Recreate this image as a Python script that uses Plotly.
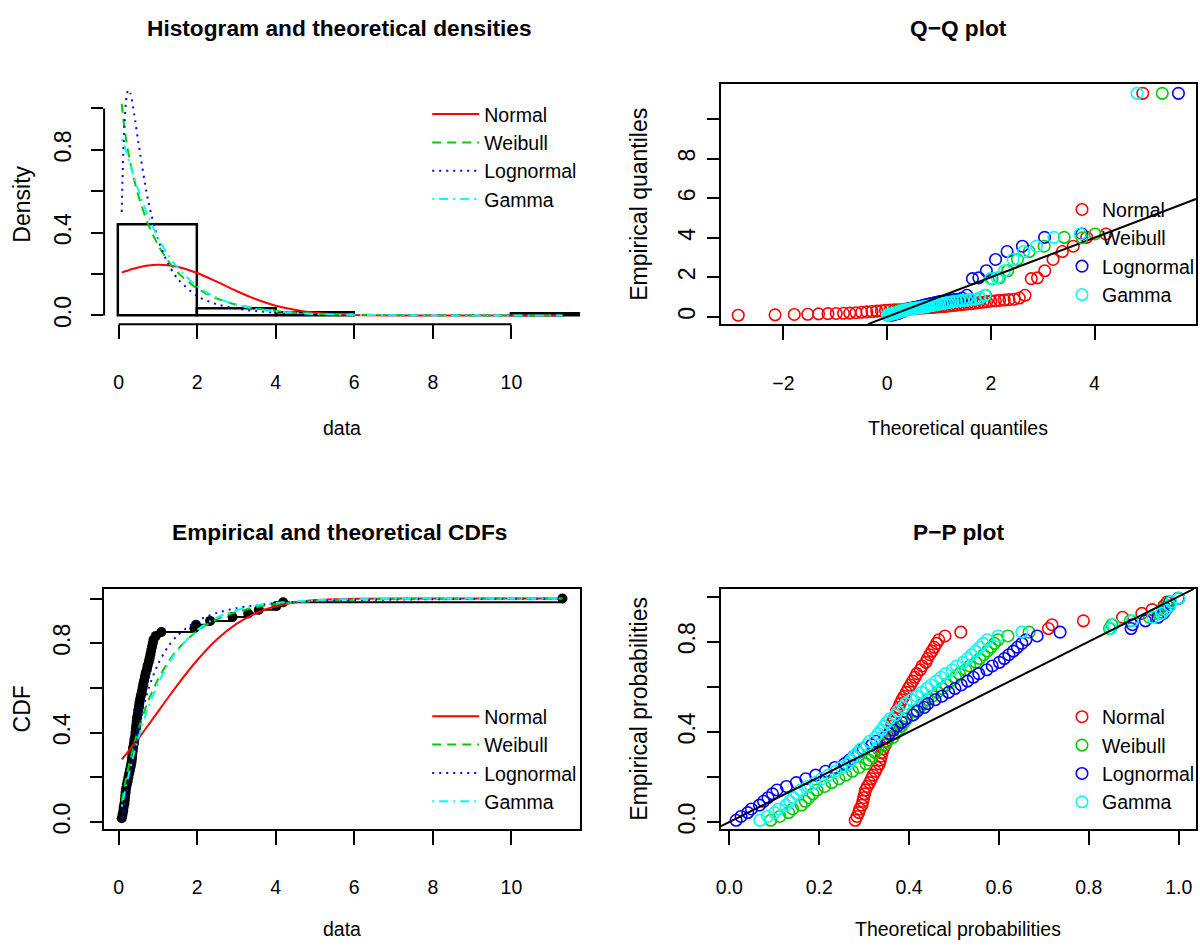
import plotly.graph_objects as go

# ---------------- data ----------------
data_sorted = [0.08, 0.10, 0.12, 0.13, 0.15, 0.16, 0.17, 0.18, 0.19, 0.21,
               0.23, 0.25, 0.27, 0.29, 0.31, 0.33, 0.34, 0.35, 0.36, 0.37,
               0.39, 0.40, 0.42, 0.43, 0.44, 0.45, 0.46, 0.47, 0.49, 0.50,
               0.52, 0.53, 0.55, 0.57, 0.59, 0.61, 0.63, 0.65, 0.67, 0.69,
               0.72, 0.74, 0.77, 0.79, 0.81, 0.83, 0.85, 0.87, 0.89, 0.95,
               1.09, 1.93, 1.97, 2.33, 2.90, 3.30, 3.57, 4.02, 4.19, 11.30]

ecdf_prob = [0.017, 0.033, 0.050, 0.067, 0.083, 0.100, 0.117, 0.133, 0.150, 0.167,
             0.183, 0.200, 0.217, 0.233, 0.250, 0.267, 0.283, 0.300, 0.317, 0.333,
             0.350, 0.367, 0.383, 0.400, 0.417, 0.433, 0.450, 0.467, 0.483, 0.500,
             0.517, 0.533, 0.550, 0.567, 0.583, 0.600, 0.617, 0.633, 0.650, 0.667,
             0.683, 0.700, 0.717, 0.733, 0.750, 0.767, 0.783, 0.800, 0.817, 0.833,
             0.850, 0.867, 0.883, 0.900, 0.917, 0.933, 0.950, 0.967, 0.983, 1.000]

pp_empirical = [0.008, 0.025, 0.042, 0.058, 0.075, 0.092, 0.108, 0.125, 0.142, 0.158,
                0.175, 0.192, 0.208, 0.225, 0.242, 0.258, 0.275, 0.292, 0.308, 0.325,
                0.342, 0.358, 0.375, 0.392, 0.408, 0.425, 0.442, 0.458, 0.475, 0.492,
                0.508, 0.525, 0.542, 0.558, 0.575, 0.592, 0.608, 0.625, 0.642, 0.658,
                0.675, 0.692, 0.708, 0.725, 0.742, 0.758, 0.775, 0.792, 0.808, 0.825,
                0.842, 0.858, 0.875, 0.892, 0.908, 0.925, 0.942, 0.958, 0.975, 0.992]

# theoretical densities / CDFs
curve_x = [0.08, 0.10, 0.12, 0.15, 0.20, 0.25, 0.30, 0.40, 0.50, 0.75, 1.00, 1.25,
           1.50, 2.00, 2.50, 3.00, 3.50, 4.00, 5.00, 6.00, 8.00, 10.00, 11.30]
dens_normal = [0.207, 0.208, 0.210, 0.212, 0.215, 0.218, 0.222, 0.227, 0.232, 0.241, 0.245, 0.243,
               0.235, 0.205, 0.163, 0.118, 0.078, 0.047, 0.013, 0.002, 0.0, 0.0, 0.0]
dens_weibull = [1.022, 0.984, 0.950, 0.905, 0.841, 0.786, 0.737, 0.653, 0.581, 0.443, 0.342, 0.267,
                0.209, 0.130, 0.082, 0.052, 0.034, 0.022, 0.009, 0.004, 0.001, 0.0, 0.0]
dens_lognormal = [0.500, 0.655, 0.784, 0.925, 1.053, 1.090, 1.074, 0.970, 0.840, 0.557, 0.371, 0.254,
                  0.178, 0.094, 0.054, 0.033, 0.021, 0.014, 0.007, 0.003, 0.001, 0.0005, 0.0003]
dens_gamma = [0.852, 0.844, 0.835, 0.819, 0.789, 0.758, 0.727, 0.666, 0.608, 0.481, 0.378, 0.296,
              0.232, 0.141, 0.086, 0.052, 0.031, 0.019, 0.007, 0.003, 0.0003, 0.0, 0.0]

cdf_normal = [0.280, 0.284, 0.288, 0.295, 0.305, 0.316, 0.327, 0.350, 0.372, 0.432, 0.493, 0.554,
              0.614, 0.724, 0.817, 0.887, 0.935, 0.966, 0.993, 0.999, 1.0, 1.0, 1.0]
cdf_weibull = [0.092, 0.112, 0.132, 0.160, 0.203, 0.244, 0.282, 0.351, 0.413, 0.540, 0.637, 0.713,
               0.772, 0.855, 0.907, 0.940, 0.961, 0.975, 0.989, 0.995, 0.999, 1.0, 1.0]
cdf_lognormal = [0.015, 0.026, 0.041, 0.067, 0.117, 0.170, 0.225, 0.327, 0.418, 0.590, 0.705, 0.782,
                 0.835, 0.900, 0.936, 0.957, 0.970, 0.979, 0.988, 0.993, 0.997, 0.999, 0.999]
cdf_gamma = [0.068, 0.085, 0.101, 0.126, 0.166, 0.205, 0.242, 0.312, 0.375, 0.511, 0.618, 0.702,
             0.768, 0.859, 0.915, 0.948, 0.969, 0.980, 0.993, 0.997, 1.0, 1.0, 1.0]

# Q-Q plot: theoretical quantiles (x) for each sorted observation
qq_normal = [-2.87, -2.16, -1.79, -1.53, -1.32, -1.14, -0.98, -0.84, -0.72, -0.60,
             -0.49, -0.39, -0.29, -0.20, -0.11, -0.03, 0.06, 0.14, 0.21, 0.29,
             0.37, 0.44, 0.51, 0.58, 0.65, 0.72, 0.79, 0.86, 0.93, 1.00,
             1.06, 1.13, 1.20, 1.27, 1.34, 1.41, 1.48, 1.55, 1.62, 1.69,
             1.77, 1.85, 1.92, 2.00, 2.09, 2.17, 2.26, 2.35, 2.45, 2.55,
             2.66, 2.78, 2.90, 3.04, 3.20, 3.38, 3.59, 3.85, 4.22, 4.93]
qq_weibull = [0.006, 0.019, 0.033, 0.048, 0.063, 0.079, 0.096, 0.113, 0.131, 0.149,
              0.167, 0.187, 0.206, 0.227, 0.247, 0.269, 0.291, 0.314, 0.337, 0.361,
              0.386, 0.411, 0.437, 0.465, 0.492, 0.521, 0.551, 0.582, 0.614, 0.647,
              0.682, 0.717, 0.754, 0.793, 0.833, 0.875, 0.919, 0.965, 1.013, 1.064,
              1.117, 1.173, 1.233, 1.296, 1.364, 1.436, 1.514, 1.598, 1.690, 1.790,
              1.901, 2.024, 2.164, 2.325, 2.513, 2.741, 3.028, 3.415, 4.009, 5.306]
qq_lognormal = [0.066, 0.098, 0.121, 0.141, 0.159, 0.176, 0.192, 0.208, 0.224, 0.239,
                0.254, 0.270, 0.285, 0.301, 0.316, 0.332, 0.348, 0.364, 0.381, 0.398,
                0.415, 0.433, 0.451, 0.470, 0.489, 0.509, 0.529, 0.550, 0.572, 0.595,
                0.619, 0.643, 0.669, 0.696, 0.723, 0.753, 0.783, 0.816, 0.850, 0.886,
                0.925, 0.967, 1.011, 1.058, 1.110, 1.164, 1.224, 1.290, 1.365, 1.448,
                1.539, 1.645, 1.768, 1.914, 2.092, 2.314, 2.609, 3.037, 3.755, 5.618]
qq_gamma = [0.011, 0.030, 0.050, 0.069, 0.089, 0.109, 0.129, 0.149, 0.169, 0.190,
            0.211, 0.233, 0.255, 0.277, 0.299, 0.323, 0.346, 0.370, 0.395, 0.420,
            0.446, 0.472, 0.500, 0.527, 0.555, 0.585, 0.615, 0.646, 0.677, 0.710,
            0.744, 0.780, 0.815, 0.853, 0.892, 0.933, 0.974, 1.018, 1.065, 1.113,
            1.164, 1.217, 1.273, 1.333, 1.393, 1.461, 1.533, 1.610, 1.694, 1.786,
            1.885, 1.996, 2.122, 2.264, 2.430, 2.631, 2.881, 3.216, 3.725, 4.821]

# P-P plot: theoretical probabilities (x) for each sorted observation
pp_normal = [0.280, 0.284, 0.288, 0.290, 0.295, 0.297, 0.299, 0.301, 0.303, 0.307,
             0.312, 0.316, 0.320, 0.325, 0.329, 0.334, 0.336, 0.338, 0.340, 0.343,
             0.347, 0.350, 0.354, 0.356, 0.359, 0.361, 0.363, 0.366, 0.370, 0.372,
             0.377, 0.380, 0.384, 0.389, 0.394, 0.398, 0.403, 0.408, 0.413, 0.417,
             0.425, 0.429, 0.437, 0.441, 0.446, 0.451, 0.456, 0.461, 0.466, 0.480,
             0.515, 0.710, 0.718, 0.788, 0.875, 0.918, 0.941, 0.967, 0.974, 1.000]
pp_weibull = [0.092, 0.112, 0.132, 0.141, 0.160, 0.169, 0.177, 0.186, 0.195, 0.212,
              0.228, 0.244, 0.259, 0.274, 0.289, 0.304, 0.311, 0.318, 0.324, 0.331,
              0.345, 0.351, 0.364, 0.370, 0.377, 0.383, 0.389, 0.395, 0.407, 0.413,
              0.424, 0.430, 0.441, 0.452, 0.463, 0.473, 0.483, 0.493, 0.503, 0.512,
              0.526, 0.535, 0.549, 0.557, 0.566, 0.574, 0.582, 0.590, 0.598, 0.620,
              0.667, 0.846, 0.851, 0.892, 0.935, 0.954, 0.964, 0.975, 0.979, 1.000]
pp_lognormal = [0.015, 0.026, 0.041, 0.049, 0.067, 0.076, 0.086, 0.096, 0.106, 0.127,
                0.149, 0.170, 0.192, 0.214, 0.235, 0.256, 0.267, 0.277, 0.287, 0.298,
                0.317, 0.327, 0.346, 0.356, 0.365, 0.374, 0.383, 0.392, 0.409, 0.418,
                0.434, 0.442, 0.458, 0.473, 0.488, 0.502, 0.516, 0.530, 0.543, 0.555,
                0.573, 0.585, 0.601, 0.612, 0.622, 0.632, 0.641, 0.651, 0.660, 0.685,
                0.736, 0.894, 0.897, 0.926, 0.954, 0.966, 0.972, 0.979, 0.981, 0.999]
pp_gamma = [0.068, 0.085, 0.101, 0.110, 0.126, 0.134, 0.142, 0.150, 0.158, 0.174,
            0.190, 0.205, 0.220, 0.235, 0.249, 0.264, 0.271, 0.278, 0.285, 0.292,
            0.306, 0.312, 0.325, 0.331, 0.338, 0.344, 0.350, 0.357, 0.370, 0.375,
            0.387, 0.393, 0.405, 0.417, 0.428, 0.439, 0.449, 0.460, 0.471, 0.481,
            0.496, 0.506, 0.520, 0.530, 0.539, 0.548, 0.557, 0.565, 0.574, 0.598,
            0.651, 0.849, 0.855, 0.897, 0.943, 0.962, 0.971, 0.980, 0.983, 1.000]

dist_names = ["Normal", "Weibull", "Lognormal", "Gamma"]

for arr in (ecdf_prob, pp_empirical, qq_normal, qq_weibull, qq_lognormal, qq_gamma,
            pp_normal, pp_weibull, pp_lognormal, pp_gamma):
    assert len(arr) == len(data_sorted)
for arr in (dens_normal, dens_weibull, dens_lognormal, dens_gamma,
            cdf_normal, cdf_weibull, cdf_lognormal, cdf_gamma):
    assert len(arr) == len(curve_x)

# axis ticks
data_ticks = [0, 2, 4, 6, 8, 10]
data_ticktext = ["0", "2", "4", "6", "8", "10"]
prob_ticks = [0, 0.2, 0.4, 0.6, 0.8, 1.0]
prob_ticktext_y = ["0.0", "", "0.4", "", "0.8", ""]
prob_ticktext_x = ["0.0", "0.2", "0.4", "0.6", "0.8", "1.0"]
qq_xticks = [-2, 0, 2, 4]
qq_xticktext = ["\u22122", "0", "2", "4"]
qq_yticks = [0, 2, 4, 6, 8, 10]
qq_yticktext = ["0", "2", "4", "6", "8", ""]

# ---------------- styling ----------------
colors = ["#FF0000", "#00CD00", "#0000FF", "#00FFFF"]
dashes = ["solid", "9px,6px", "2px,5px", "2px,5px,9px,5px"]
FONT = "Liberation Sans, Arial, sans-serif"
FS_H = 19.5   # horizontal texts
FS_V = 23     # rotated texts

W, H = 1200, 948
def fx(p):
    return p / W
def fy(p):
    return 1 - p / H

LX = [99.5, 577.5]
RX = [718.6, 1196.0]
TY = [85.0, 326.2]
BY = [592.7, 834.0]

hist_xr = [-0.369, 11.749]
hist_yr = [-0.042, 1.116]
qq_xr = [-3.21, 5.957]
qq_yr = [-0.369, 11.749]
cdf_xr = [-0.369, 11.749]
cdf_yr = [-0.03, 1.043]
pp_xr = [-0.0195, 1.0386]
pp_yr = [-0.0295, 1.0335]

fig = go.Figure()

# ---- panel 1: histogram & densities ----
fig.add_trace(go.Histogram(
    x=data_sorted, xbins=dict(start=0, end=12, size=2), histnorm="probability density",
    marker=dict(color="rgba(255,255,255,0)", line=dict(color="black", width=2.5)),
    xaxis="x", yaxis="y", showlegend=False, hoverinfo="skip"))
for nm, col, ds, yv in zip(dist_names, colors, dashes,
                            [dens_normal, dens_weibull, dens_lognormal, dens_gamma]):
    fig.add_trace(go.Scatter(x=curve_x, y=yv, mode="lines", name=nm,
                             line=dict(color=col, dash=ds, width=2, shape="spline", smoothing=0.8),
                             xaxis="x", yaxis="y", legend="legend"))

# ---- panel 2: Q-Q ----
for nm, col, xv in zip(dist_names, colors, [qq_normal, qq_weibull, qq_lognormal, qq_gamma]):
    fig.add_trace(go.Scatter(x=xv, y=data_sorted, mode="markers", name=nm,
                             marker=dict(symbol="circle-open", size=11.5, color=col, line=dict(width=1.6)),
                             xaxis="x2", yaxis="y2", legend="legend2"))
lo = max(qq_xr[0], qq_yr[0]); hi = min(qq_xr[1], qq_yr[1])
fig.add_trace(go.Scatter(x=[lo, hi], y=[lo, hi], mode="lines", line=dict(color="black", width=2),
                         xaxis="x2", yaxis="y2", showlegend=False, hoverinfo="skip"))

# ---- panel 3: CDFs ----
fig.add_trace(go.Scatter(x=data_sorted, y=ecdf_prob, mode="lines+markers",
                         line=dict(color="black", width=2, shape="hv"),
                         marker=dict(color="black", size=10),
                         xaxis="x3", yaxis="y3", showlegend=False, hoverinfo="skip"))
for nm, col, ds, yv in zip(dist_names, colors, dashes,
                            [cdf_normal, cdf_weibull, cdf_lognormal, cdf_gamma]):
    fig.add_trace(go.Scatter(x=curve_x, y=yv, mode="lines", name=nm,
                             line=dict(color=col, dash=ds, width=2, shape="spline", smoothing=0.8),
                             xaxis="x3", yaxis="y3", legend="legend3"))

# ---- panel 4: P-P ----
for nm, col, xv in zip(dist_names, colors, [pp_normal, pp_weibull, pp_lognormal, pp_gamma]):
    fig.add_trace(go.Scatter(x=xv, y=pp_empirical, mode="markers", name=nm,
                             marker=dict(symbol="circle-open", size=11.5, color=col, line=dict(width=1.6)),
                             xaxis="x4", yaxis="y4", legend="legend4"))
lo = max(pp_xr[0], pp_yr[0]); hi = min(pp_xr[1], pp_yr[1])
fig.add_trace(go.Scatter(x=[lo, hi], y=[lo, hi], mode="lines", line=dict(color="black", width=2),
                         xaxis="x4", yaxis="y4", showlegend=False, hoverinfo="skip"))

# ---------------- axes ----------------
def xaxis(dom, rng, tv, tt, anchor, boxed):
    return dict(domain=[fx(dom[0]), fx(dom[1])], range=rng, anchor=anchor,
                tickvals=tv, ticktext=tt, ticks="outside", ticklen=14, tickwidth=2, tickcolor="black",
                showline=boxed, mirror=boxed, linecolor="black", linewidth=2,
                showgrid=False, zeroline=False, ticklabelstandoff=26,
                tickfont=dict(family=FONT, size=FS_H, color="black"), fixedrange=True)

def yaxis(dom, rng, tv, tt, anchor, boxed, title, standoff_lab, standoff_title):
    return dict(domain=[fy(dom[1]), fy(dom[0])], range=rng, anchor=anchor,
                tickvals=tv, ticktext=tt, ticks="outside", ticklen=12, tickwidth=2, tickcolor="black",
                showline=boxed, mirror=boxed, linecolor="black", linewidth=2,
                showgrid=False, zeroline=False, tickangle=-90, ticklabelstandoff=standoff_lab,
                tickfont=dict(family=FONT, size=FS_V, color="black"), fixedrange=True,
                title=dict(text=title, font=dict(family=FONT, size=FS_V, color="black"),
                           standoff=standoff_title))

layout = dict(
    width=W, height=H, autosize=False, margin=dict(l=0, r=0, t=0, b=0),
    paper_bgcolor="white", plot_bgcolor="white", bargap=0,
    xaxis=xaxis(LX, hist_xr, data_ticks, data_ticktext, "y", False),
    yaxis=yaxis(TY, hist_yr, prob_ticks, prob_ticktext_y, "x", False, "Density", 11, 12),
    xaxis2=xaxis(RX, qq_xr, qq_xticks, qq_xticktext, "y2", True),
    yaxis2=yaxis(TY, qq_yr, qq_yticks, qq_yticktext, "x2", True, "Empirical quantiles", 2, 20),
    xaxis3=xaxis(LX, cdf_xr, data_ticks, data_ticktext, "y3", True),
    yaxis3=yaxis(BY, cdf_yr, prob_ticks, prob_ticktext_y, "x3", True, "CDF", 11, 12),
    xaxis4=xaxis(RX, pp_xr, prob_ticks, prob_ticktext_x, "y4", True),
    yaxis4=yaxis(BY, pp_yr, prob_ticks, prob_ticktext_y, "x4", True, "Empirical probabilities", 2, 20),
)

leg = dict(bgcolor="rgba(0,0,0,0)", borderwidth=0, yanchor="top",
           font=dict(family=FONT, size=FS_H, color="black"), tracegroupgap=0)
layout["legend"] = dict(x=fx(424), xanchor="left", y=fy(95.5), itemwidth=47, **leg)
layout["legend2"] = dict(x=1.0, xanchor="right", y=fy(191.5), **leg)
layout["legend3"] = dict(x=fx(424), xanchor="left", y=fy(701.5), itemwidth=47, **leg)
layout["legend4"] = dict(x=1.0, xanchor="right", y=fy(702), **leg)

fig.update_layout(**layout)

# axis lines of the histogram panel (R style: from first to last tick only)
fig.add_shape(type="line", xref="x", yref="paper", x0=data_ticks[0], x1=data_ticks[-1],
              y0=fy(TY[1]), y1=fy(TY[1]), line=dict(color="black", width=2))
fig.add_shape(type="line", xref="paper", yref="y", x0=fx(LX[0]), x1=fx(LX[0]),
              y0=prob_ticks[0], y1=prob_ticks[-1], line=dict(color="black", width=2))

# titles and x-axis labels
def ann(text, x, y, size=FS_H):
    fig.add_annotation(text=text, x=fx(x), y=fy(y), xref="paper", yref="paper",
                       showarrow=False, xanchor="center", yanchor="middle",
                       font=dict(family=FONT, size=size, color="black"))

cxL = (LX[0] + LX[1]) / 2
cxR = (RX[0] + RX[1]) / 2
ann("<b>Histogram and theoretical densities</b>", cxL - 3, 28, size=22.7)
ann("<b>Q\u2212Q plot</b>", cxR, 28, size=22.7)
ann("<b>Empirical and theoretical CDFs</b>", cxL - 3, 535, size=22.7)
ann("<b>P\u2212P plot</b>", cxR, 535, size=22.7)
ann("data", cxL, 431)
ann("Theoretical quantiles", cxR, 431)
ann("data", cxL, 935)
ann("Theoretical probabilities", cxR, 935)

# remove the browser's default page margin so the figure sits at the window origin
fig.write_html("out.html",
               config={"displayModeBar": False},
               post_script="document.body.style.margin='0';document.body.style.padding='0';")
